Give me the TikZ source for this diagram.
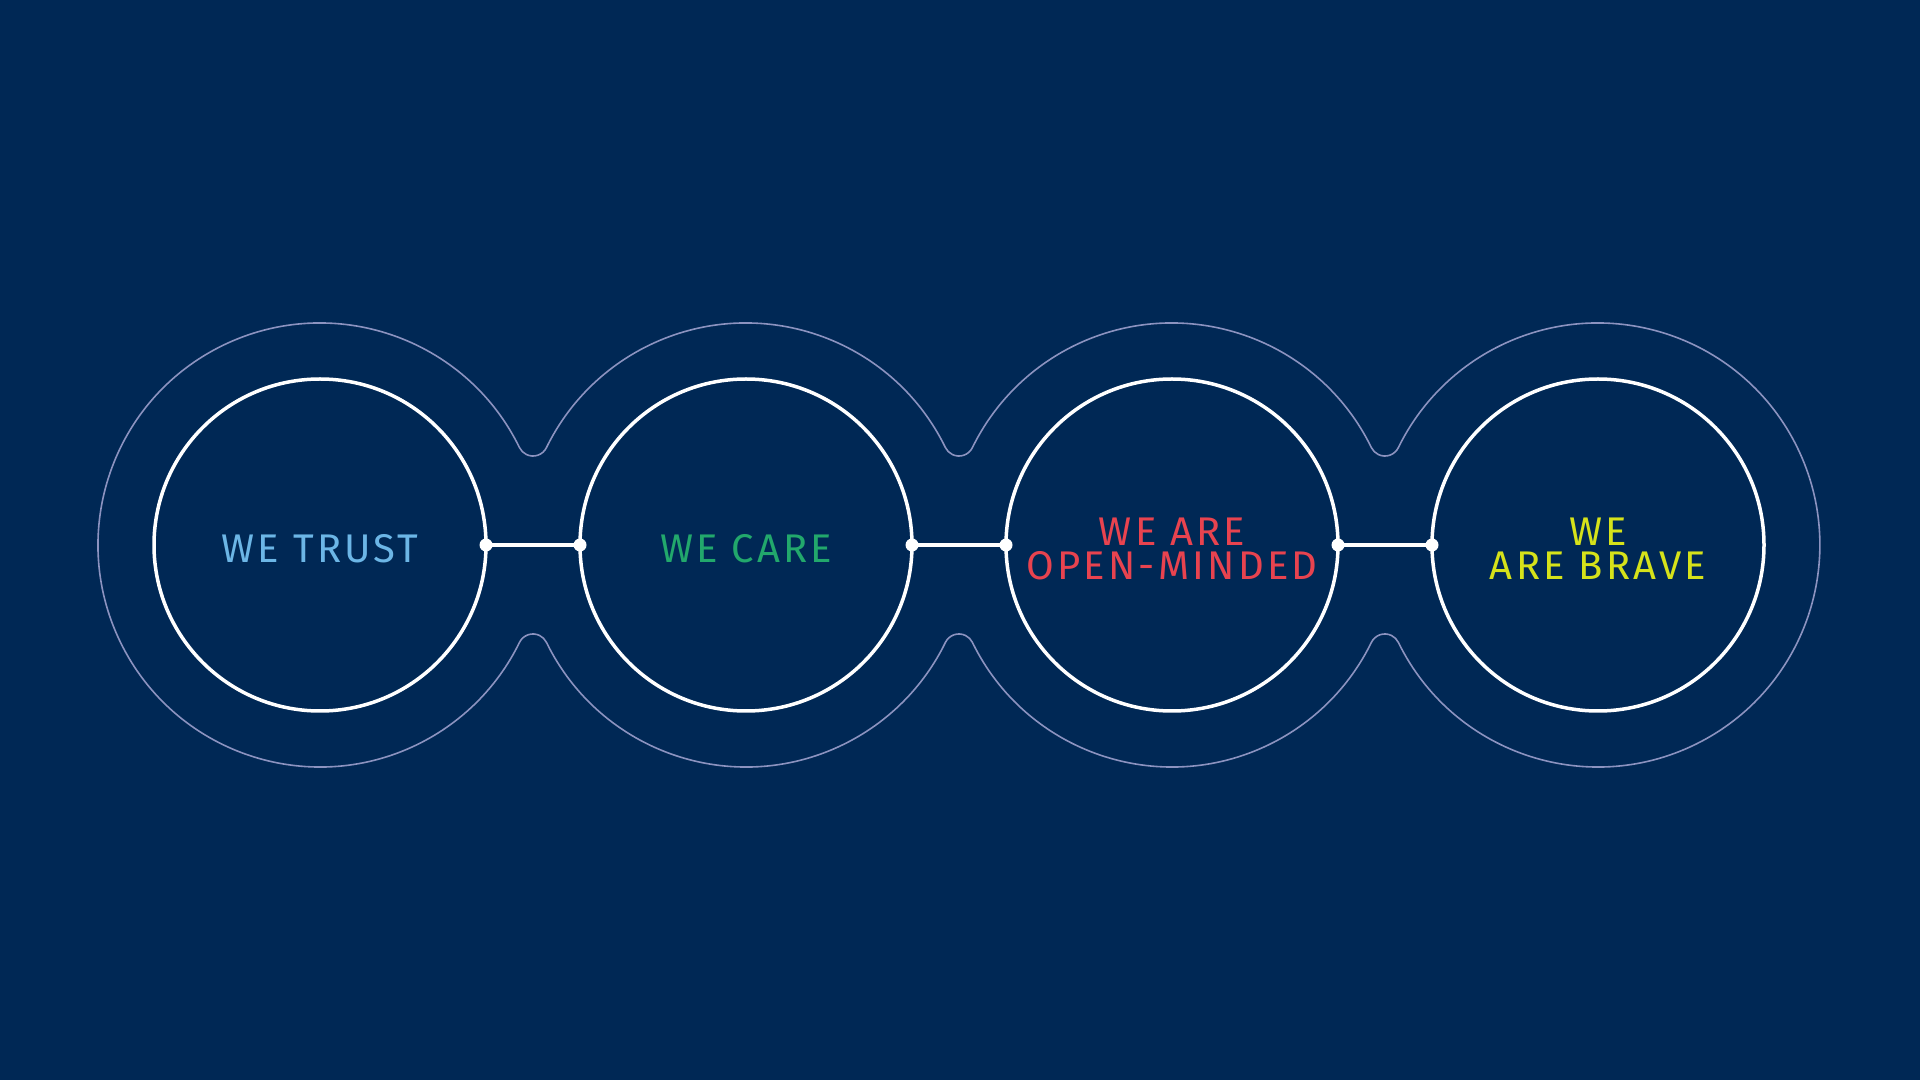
\documentclass[tikz,border=0pt]{standalone}
\usepackage{fontspec}
\setsansfont{Fira Sans}[LetterSpace=8]
\begin{document}
\begin{tikzpicture}[x=1pt,y=1pt,
  ring/.style={circle,draw=white,line width=3.5pt,minimum size=332pt,inner sep=0pt,outer sep=0pt},
  lbl/.style={align=center,inner sep=0pt,font=\sffamily\fontsize{40}{34}\selectfont},
  conn/.style={draw=white,line width=3.5pt},
  dotw/.style={fill=white},
  outline/.style={draw=outl,line width=1.6pt}]
\definecolor{bg}{HTML}{002855}
\definecolor{outl}{HTML}{8C93C0}
\definecolor{tblue}{HTML}{6CB6E6}
\definecolor{tgreen}{HTML}{22A86C}
\definecolor{tred}{HTML}{E8434F}
\definecolor{tyellow}{HTML}{D6E21A}
\fill[bg] (0,0) rectangle (1920,1080);
\useasboundingbox (0,0) rectangle (1920,1080);
% outer outline
\def\R{222}\def\r{15}\def\a{26.02}\def\b{153.98}
\coordinate (o1) at (320,535);
\draw[outline] (o1) ++(\a:\R)
  arc[start angle=\a,end angle=333.98,radius=\R]
  arc[start angle=\b,end angle=\a,radius=\r]
  arc[start angle=206.02,end angle=333.98,radius=\R]
  arc[start angle=\b,end angle=\a,radius=\r]
  arc[start angle=206.02,end angle=333.98,radius=\R]
  arc[start angle=\b,end angle=\a,radius=\r]
  arc[start angle=206.02,end angle=513.98,radius=\R]
  arc[start angle=333.98,end angle=206.02,radius=\r]
  arc[start angle=\a,end angle=\b,radius=\R]
  arc[start angle=333.98,end angle=206.02,radius=\r]
  arc[start angle=\a,end angle=\b,radius=\R]
  arc[start angle=333.98,end angle=206.02,radius=\r]
  -- cycle;
% inner circles
\node[ring] (c1) at (320,535) {};
\node[ring] (c2) at (746,535) {};
\node[ring] (c3) at (1172,535) {};
\node[ring] (c4) at (1598,535) {};
% labels
\node[lbl,text=tblue] (t1) at ([yshift=-4]c1.center) {WE TRUST};
\node[lbl,text=tgreen] (t2) at ([yshift=-4]c2.center) {WE CARE};
\node[lbl,text=tred] (t3) at ([yshift=-4]c3.center) {WE ARE\\OPEN-MINDED};
\node[lbl,text=tyellow] (t4) at ([yshift=-4]c4.center) {WE\\ARE BRAVE};
% connectors
\draw[conn] (c1.east) -- (c2.west);
\draw[conn] (c2.east) -- (c3.west);
\draw[conn] (c3.east) -- (c4.west);
\foreach \n in {c1.east,c2.west,c2.east,c3.west,c3.east,c4.west}
  \fill[dotw] (\n) circle (6.5);
\end{tikzpicture}
\end{document}
